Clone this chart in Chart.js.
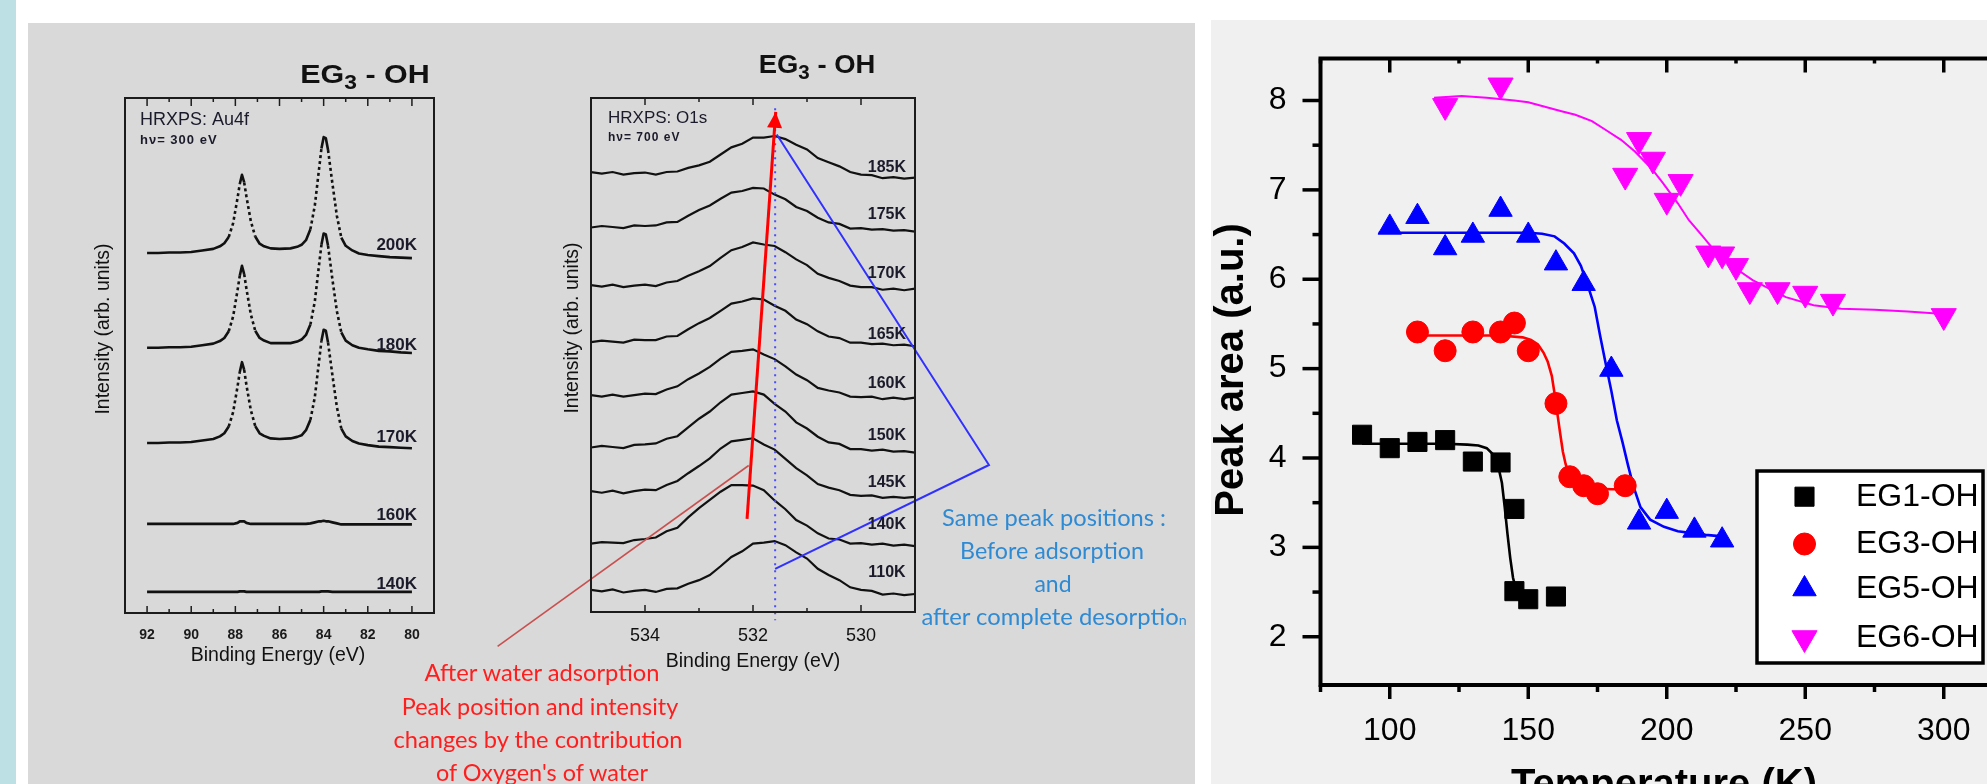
<!DOCTYPE html>
<html>
<head>
<meta charset="utf-8">
<script src="https://cdn.jsdelivr.net/npm/chart.js"></script>
<style>
html, body { margin: 0; padding: 0; }
body { width: 1987px; height: 784px; overflow: hidden; position: relative; background: #fff; }
.blk { position: absolute; }
#strip { left: 0; top: 0; width: 16px; height: 784px; background: #bde0e4; }
#panelL { left: 28px; top: 23px; width: 1167px; height: 761px; background: #d9d9d9; }
#panelR { left: 1211px; top: 20px; width: 776px; height: 764px; background: #f0f0f0; }
canvas { position: absolute; left: 0; top: 0; }
.fit { position: absolute; white-space: nowrap; line-height: 1; transform: translate(-50%, -50%); transform-origin: 50% 50%; }
.note { font-family: Lato, "Open Sans", sans-serif; font-size: 23px; }
.red { color: #ff1e1e; }
.blue { color: #2f8ad4; }
.ttl { font: bold 26px "Liberation Sans", Arial, sans-serif; line-height: 1; color: #111; }
.ttl sub { font-size: 0.75em; vertical-align: -0.3em; line-height: 0; }
.small { font-size: 60%; }
</style>
</head>
<body>
<div class="blk" id="strip"></div>
<div class="blk" id="panelL"></div>
<div class="blk" id="panelR"></div>
<canvas id="au4f" width="1987" height="784"></canvas>
<canvas id="o1s" width="1987" height="784"></canvas>
<canvas id="area" width="2040" height="784"></canvas>

<div class="fit ttl" data-w="130" style="left:365px; top:74px">EG<sub>3</sub> - OH</div>
<div class="fit ttl" data-w="117" style="left:817px; top:64px">EG<sub>3</sub> - OH</div>

<div class="fit note red" data-w="235" style="left:542px; top:672px">After water adsorption</div>
<div class="fit note red" data-w="277" style="left:540px; top:706px">Peak position and intensity</div>
<div class="fit note red" data-w="289" style="left:538px; top:739px">changes by the contribution</div>
<div class="fit note red" data-w="212" style="left:542px; top:772px">of Oxygen's of water</div>

<div class="fit note blue" data-w="224" style="left:1054px; top:517px">Same peak positions :</div>
<div class="fit note blue" data-w="184" style="left:1052px; top:550px">Before adsorption</div>
<div class="fit note blue" data-w="37" style="left:1053px; top:583px">and</div>
<div class="fit note blue" data-w="265" style="left:1054px; top:616px">after complete desorptio<span class="small">n</span></div>

<script>
// ---------- Au 4f spectra (binding energy in eV, intensity in arb. units) ----------
const au4fEnergy = [92, 91.5, 91, 90.5, 90, 89.5, 89, 88.7, 88.5, 88.3, 88.1, 87.9, 87.8, 87.7, 87.6,
  87.5, 87.3, 87.1, 86.9, 86.7, 86.4, 86, 85.5, 85.2, 85, 84.8, 84.6, 84.4, 84.2, 84.1, 84.0, 83.9,
  83.8, 83.6, 83.4, 83.2, 83.0, 82.7, 82.4, 82, 81.5, 81, 80.5, 80];
const au4fTemps = ['200K', '180K', '170K', '160K', '140K'];
const au4f200K = [69.9, 69.9, 70.0, 70.0, 70.1, 70.4, 70.7, 71.2, 71.8, 73.0, 75.7, 80.6, 83.3, 85.1, 83.6,
  80.9, 76.1, 73.1, 71.7, 71.2, 70.8, 70.7, 70.8, 71.1, 71.5, 72.4, 74.5, 79.1, 86.5, 90.2, 92.4, 92.2,
  89.9, 83.3, 77.1, 72.9, 71.3, 70.4, 69.8, 69.5, 69.3, 69.1, 69.0, 68.9];
const au4f180K = [51.5, 51.5, 51.6, 51.6, 51.7, 52.0, 52.3, 52.8, 53.4, 54.7, 57.6, 62.7, 65.5, 67.4, 65.8,
  63.0, 58.0, 54.8, 53.4, 52.9, 52.4, 52.4, 52.4, 52.7, 53.1, 54.0, 56.0, 60.5, 67.9, 71.5, 73.7, 73.5,
  71.3, 64.7, 58.6, 54.5, 52.9, 52.0, 51.5, 51.2, 50.9, 50.8, 50.6, 50.5];
const au4f170K = [33.0, 33.0, 33.1, 33.1, 33.2, 33.5, 33.8, 34.3, 34.9, 36.2, 39.0, 44.0, 46.8, 48.7, 47.2,
  44.3, 39.4, 36.3, 34.9, 34.4, 33.9, 33.8, 33.9, 34.2, 34.5, 35.5, 37.5, 41.9, 49.2, 52.8, 55.0, 54.8,
  52.5, 46.1, 40.0, 35.8, 34.3, 33.4, 32.9, 32.6, 32.3, 32.2, 32.1, 32.0];
const au4f160K = [17.3, 17.3, 17.3, 17.3, 17.3, 17.3, 17.3, 17.3, 17.3, 17.3, 17.3, 17.5, 17.8, 17.8, 17.8,
  17.5, 17.3, 17.3, 17.3, 17.3, 17.3, 17.3, 17.3, 17.3, 17.3, 17.3, 17.4, 17.6, 17.8, 17.8, 17.9, 17.8,
  17.8, 17.6, 17.4, 17.2, 17.2, 17.2, 17.2, 17.2, 17.2, 17.2, 17.2, 17.2];
const au4f140K = [4.1, 4.1, 4.1, 4.1, 4.1, 4.1, 4.1, 4.1, 4.1, 4.1, 4.1, 4.1, 4.2, 4.2, 4.2,
  4.1, 4.1, 4.1, 4.1, 4.1, 4.1, 4.1, 4.1, 4.1, 4.1, 4.1, 4.1, 4.1, 4.1, 4.2, 4.2, 4.2,
  4.2, 4.1, 4.1, 4.1, 4.1, 4.1, 4.1, 4.1, 4.1, 4.1, 4.1, 4.1];
const au4fMajorTicks = [92, 90, 88, 86, 84, 82, 80];
const au4fMinorTicks = [91, 89, 87, 85, 83, 81];

// ---------- O 1s spectra ----------
const o1sEnergy = [535.0, 534.8, 534.6, 534.4, 534.2, 534.0, 533.8, 533.6, 533.4, 533.2, 533.0, 532.8,
  532.6, 532.4, 532.2, 532.0, 531.8, 531.6, 531.4, 531.2, 531.0, 530.8, 530.6, 530.4, 530.2, 530.0,
  529.8, 529.6, 529.4, 529.2, 529.0];
const o1sTemps = ['185K', '175K', '170K', '165K', '160K', '150K', '145K', '140K', '110K'];
const o1s185K = [85.6, 85.3, 85.6, 85.1, 85.4, 85.5, 85.1, 85.6, 85.7, 86.4, 86.9, 87.6, 89.0, 90.4, 91.1,
  92.3, 92.3, 92.6, 92.0, 90.9, 90.0, 88.3, 87.5, 86.7, 85.6, 85.1, 85.0, 84.4, 84.6, 84.3, 84.5];
const o1s175K = [74.8, 75.1, 74.9, 74.7, 75.2, 75.1, 75.2, 75.8, 75.9, 77.1, 78.2, 79.1, 80.4, 81.6, 81.9,
  82.5, 82.4, 81.2, 80.3, 78.8, 78.0, 76.7, 75.8, 75.5, 74.6, 74.7, 74.4, 74.5, 74.2, 74.3, 74.0];
const o1s170K = [63.6, 63.3, 63.7, 63.2, 63.5, 63.7, 63.4, 64.1, 64.4, 65.4, 66.3, 67.3, 68.9, 70.4, 71.0,
  71.9, 71.5, 71.2, 70.0, 68.6, 67.5, 65.8, 65.0, 64.4, 63.5, 63.2, 63.2, 62.7, 62.9, 62.6, 62.9];
const o1s165K = [52.5, 52.8, 52.6, 52.4, 53.0, 52.9, 52.9, 53.6, 53.7, 55.0, 56.2, 57.2, 58.6, 60.0, 60.4,
  61.0, 60.8, 59.6, 58.6, 56.9, 56.0, 54.6, 53.6, 53.3, 52.4, 52.4, 52.1, 52.2, 51.9, 52.0, 51.7];
const o1s160K = [42.2, 41.9, 42.3, 41.9, 42.2, 42.5, 42.4, 43.3, 43.9, 45.3, 46.4, 47.7, 49.3, 50.6, 50.8,
  51.1, 50.1, 49.2, 47.8, 46.2, 45.1, 43.6, 43.1, 42.7, 41.9, 41.8, 41.9, 41.4, 41.7, 41.4, 41.7];
const o1s150K = [32.0, 32.3, 32.1, 31.9, 32.5, 32.6, 32.8, 33.7, 34.2, 35.9, 37.6, 39.0, 40.8, 42.3, 42.6,
  42.9, 42.3, 40.5, 39.0, 36.9, 35.7, 34.1, 33.0, 32.7, 31.7, 31.7, 31.4, 31.6, 31.2, 31.3, 31.0];
const o1s145K = [23.5, 23.2, 23.6, 23.1, 23.5, 23.8, 23.7, 24.7, 25.5, 27.0, 28.4, 29.9, 31.8, 33.2, 33.5,
  33.8, 32.6, 31.6, 29.8, 28.0, 26.6, 24.9, 24.2, 23.7, 22.8, 22.6, 22.7, 22.2, 22.4, 22.2, 22.4];
const o1s140K = [13.3, 13.6, 13.5, 13.4, 14.0, 14.2, 14.5, 15.7, 16.4, 18.4, 20.2, 21.8, 23.4, 24.7, 24.7,
  24.6, 23.7, 21.7, 20.0, 17.9, 16.8, 15.3, 14.3, 14.1, 13.3, 13.4, 13.1, 13.3, 12.9, 13.1, 12.8];
const o1s110K = [4.3, 4.0, 4.4, 3.8, 4.1, 4.3, 3.9, 4.5, 4.6, 5.5, 6.2, 7.2, 8.9, 10.7, 11.8,
  13.3, 13.5, 13.8, 13.0, 11.6, 10.4, 8.4, 7.2, 6.2, 4.8, 4.3, 4.1, 3.4, 3.6, 3.3, 3.5];
const o1sMajorTicks = [534, 532, 530];
const o1sMinorTicks = [533, 531];
// guide lines drawn over the O 1s panel (energy, intensity)
const shiftArrowE = [532.11, 531.58];
const shiftArrowI = [18.1, 97.3];
const shiftPointerE = [536.73, 532.08];
const shiftPointerI = [-6.7, 28.5];
const refLineE = [531.59, 531.59];
const refLineI = [98.0, -1.6];
const samePeakE = [531.56, 527.63, 531.59];
const samePeakI = [92.9, 28.6, 8.4];

// ---------- Peak area vs temperature ----------
const eg1Temp = [90, 100, 110, 120, 130, 140, 145, 145, 150, 160];
const eg1Area = [4.26, 4.11, 4.18, 4.20, 3.96, 3.95, 3.43, 2.51, 2.42, 2.45];
const eg3Temp = [110, 120, 130, 140, 145, 150, 160, 165, 170, 175, 185];
const eg3Area = [5.41, 5.20, 5.41, 5.41, 5.51, 5.20, 4.61, 3.79, 3.69, 3.60, 3.69];
const eg5Temp = [100, 110, 120, 130, 140, 150, 160, 170, 180, 190, 200, 210, 220];
const eg5Area = [6.58, 6.70, 6.35, 6.49, 6.78, 6.49, 6.18, 5.95, 4.99, 3.28, 3.40, 3.19, 3.08];
const eg6Temp = [120, 140, 185, 190, 195, 200, 205, 215, 220, 225, 230, 240, 250, 260, 300];
const eg6Area = [7.94, 8.17, 7.16, 7.56, 7.34, 6.88, 7.09, 6.29, 6.28, 6.15, 5.88, 5.88, 5.84, 5.75, 5.59];

const eg1FitTemp = [90, 100, 110, 120, 128, 132, 135, 137, 139, 140.5, 141.5, 142.5, 143.5, 144.5, 145.5, 146.5, 148, 151];
const eg1FitArea = [4.16, 4.16, 4.16, 4.16, 4.15, 4.14, 4.11, 4.05, 3.93, 3.72, 3.45, 3.15, 2.88, 2.66, 2.54, 2.48, 2.46, 2.45];
const eg3FitTemp = [110, 120, 130, 140, 148, 151, 153.5, 155.5, 157, 158.5, 159.5, 160.5, 161.5, 162.5, 163.5, 165, 168, 173, 180, 185];
const eg3FitArea = [5.37, 5.37, 5.37, 5.37, 5.35, 5.32, 5.27, 5.18, 5.08, 4.92, 4.72, 4.50, 4.28, 4.07, 3.93, 3.80, 3.72, 3.66, 3.65, 3.65];
const eg5FitTemp = [96, 110, 120, 130, 140, 150, 155, 159.5, 163, 166.5, 169, 171.5, 174, 176, 178, 180, 182, 184, 186, 188, 190.5, 194, 199, 204, 214, 221];
const eg5FitArea = [6.52, 6.52, 6.52, 6.52, 6.52, 6.52, 6.51, 6.48, 6.40, 6.29, 6.15, 5.93, 5.69, 5.36, 5.05, 4.75, 4.42, 4.18, 3.92, 3.68, 3.45, 3.31, 3.23, 3.18, 3.14, 3.12];
const eg6FitTemp = [116, 126, 135, 145, 150, 156, 162, 167, 173, 178, 183.5, 188.5, 194.5, 198.5, 204, 208, 213, 217.5, 224, 231, 243, 253, 263, 275, 287, 300];
const eg6FitArea = [8.03, 8.05, 8.03, 8.00, 7.98, 7.93, 7.88, 7.84, 7.77, 7.67, 7.56, 7.43, 7.24, 7.08, 6.85, 6.66, 6.48, 6.31, 6.14, 5.99, 5.80, 5.71, 5.67, 5.66, 5.64, 5.61];

const tempMajorTicks = [100, 150, 200, 250, 300];
const tempMinorTicks = [75, 125, 175, 225, 275, 325];
const areaMajorTicks = [2, 3, 4, 5, 6, 7, 8];
const areaMinorTicks = [2.5, 3.5, 4.5, 5.5, 6.5, 7.5];

// ---------- helpers ----------
const FONT = '"Liberation Sans", Arial, sans-serif';
Chart.defaults.font.family = FONT;
Chart.defaults.color = '#111';

function xy(xs, ys) {
  return xs.map((x, i) => ({ x: x, y: ys[i] }));
}
function useTicks(values) {
  return function (scale) { scale.ticks = values.map(v => ({ value: v })); };
}
// fixed axis box size so the plot area lands where the figure has it
function boxSize(n) {
  return function (scale) {
    if (scale.isHorizontal()) scale.height = n; else scale.width = n;
  };
}
function steepDash(ctx) {
  return Math.abs(ctx.p1.y - ctx.p0.y) > 12 ? [3, 3] : undefined;
}

function drawText(ctx, t, x, y) {
  ctx.save();
  ctx.font = t.font;
  ctx.fillStyle = t.color || '#111';
  ctx.textAlign = t.align || 'left';
  ctx.textBaseline = t.baseline || 'middle';
  if ('letterSpacing' in ctx) ctx.letterSpacing = t.spacing || '0px';
  ctx.translate(x, y);
  if (t.rotate) ctx.rotate(t.rotate);
  ctx.fillText(t.text, 0, 0);
  ctx.restore();
}

// frame, tick marks, labels, arrow head and legend
function deco(cfg) {
  return {
    id: 'deco',
    afterDatasetsDraw(chart) {
      const ctx = chart.ctx;
      const a = chart.chartArea;
      ctx.save();
      ctx.strokeStyle = cfg.frameColor;
      ctx.lineWidth = cfg.frameWidth;
      ctx.strokeRect(a.left, a.top, a.right - a.left, a.bottom - a.top);
      cfg.ticks.forEach(t => {
        const s = chart.scales[t.axis];
        ctx.lineWidth = t.width;
        t.values.forEach(v => {
          const p = s.getPixelForValue(v);
          ctx.beginPath();
          if (t.edge === 'bottom') { ctx.moveTo(p, a.bottom); ctx.lineTo(p, a.bottom - t.len); }
          else if (t.edge === 'top') { ctx.moveTo(p, a.top); ctx.lineTo(p, a.top + t.len); }
          else { ctx.moveTo(a.left, p); ctx.lineTo(a.left + t.len, p); }
          ctx.stroke();
        });
      });
      ctx.restore();

      cfg.texts.forEach(t => {
        const x = t.xv !== undefined ? chart.scales.x.getPixelForValue(t.xv) : t.x;
        const y = t.yv !== undefined ? chart.scales.y.getPixelForValue(t.yv) : t.y;
        drawText(ctx, t, x, y);
      });

      if (cfg.arrow) {
        const pts = chart.getDatasetMeta(cfg.arrow.dataset).data;
        const p1 = pts[pts.length - 1], p0 = pts[pts.length - 2];
        const ang = Math.atan2(p1.y - p0.y, p1.x - p0.x);
        const L = cfg.arrow.len, H = cfg.arrow.half;
        const bx = p1.x - Math.cos(ang) * L, by = p1.y - Math.sin(ang) * L;
        ctx.save();
        ctx.fillStyle = cfg.arrow.color;
        ctx.beginPath();
        ctx.moveTo(p1.x, p1.y);
        ctx.lineTo(bx + Math.sin(ang) * H, by - Math.cos(ang) * H);
        ctx.lineTo(bx - Math.sin(ang) * H, by + Math.cos(ang) * H);
        ctx.closePath();
        ctx.fill();
        ctx.restore();
      }

      if (cfg.legend) {
        const g = cfg.legend;
        ctx.save();
        ctx.fillStyle = '#fff';
        ctx.fillRect(g.left, g.top, g.right - g.left, g.bottom - g.top);
        ctx.strokeStyle = '#000';
        ctx.lineWidth = g.border;
        ctx.strokeRect(g.left, g.top, g.right - g.left, g.bottom - g.top);
        g.rows.forEach((ry, i) => {
          const ds = chart.data.datasets[i];
          ctx.fillStyle = ds.backgroundColor;
          ctx.strokeStyle = ds.borderColor;
          ctx.lineWidth = 1;
          Chart.helpers.drawPoint(ctx, {
            pointStyle: ds.pointStyle, rotation: ds.pointRotation || 0,
            radius: ds.pointRadius, borderWidth: 1
          }, g.markerX, ry);
          drawText(ctx, { text: ds.label, font: g.font, color: '#000' }, g.textX, ry);
        });
        ctx.restore();
      }
    }
  };
}

// ---------- chart 1 : Au 4f ----------
const au4fSeries = [au4f200K, au4f180K, au4f170K, au4f160K, au4f140K];
new Chart(document.getElementById('au4f'), {
  type: 'scatter',
  data: {
    datasets: au4fSeries.map((ys, i) => ({
      label: au4fTemps[i],
      data: xy(au4fEnergy, ys),
      showLine: true,
      pointRadius: 0,
      borderColor: '#111',
      borderWidth: 2.6,
      borderJoinStyle: 'round',
      segment: { borderDash: steepDash }
    }))
  },
  options: {
    responsive: false,
    animation: false,
    events: [],
    layout: { padding: { left: 125, top: 98, right: 1987 - 434, bottom: 784 - 613 - 50 } },
    plugins: { legend: { display: false }, tooltip: { enabled: false } },
    scales: {
      x: {
        type: 'linear', min: 79, max: 93, reverse: true,
        afterFit: boxSize(50), afterBuildTicks: useTicks(au4fMajorTicks),
        grid: { display: false }, border: { display: false },
        ticks: { font: { size: 14, weight: 'bold' }, color: '#1a1a1a', padding: 6, autoSkip: false, maxRotation: 0 }
      },
      y: { type: 'linear', min: 0, max: 100, display: false }
    }
  },
  plugins: [deco({
    frameWidth: 2, frameColor: '#1c1c1c',
    ticks: [
      { axis: 'x', edge: 'top', values: au4fMajorTicks, len: 8, width: 1.5 },
      { axis: 'x', edge: 'top', values: au4fMinorTicks, len: 4, width: 1.5 },
      { axis: 'x', edge: 'bottom', values: au4fMajorTicks, len: 7, width: 1.5 },
      { axis: 'x', edge: 'bottom', values: au4fMinorTicks, len: 4, width: 1.5 }
    ],
    texts: [
      { text: 'HRXPS: Au4f', x: 140, y: 120, font: '18px ' + FONT, color: '#1a1a2a' },
      { text: 'h\u03bd= 300 eV', x: 140, y: 140, font: 'bold 13px ' + FONT, spacing: '1px', color: '#1a1a2a' },
      { text: 'Binding Energy (eV)', x: 278, y: 656, font: '19.5px ' + FONT, align: 'center' },
      { text: 'Intensity (arb. units)', x: 104, y: 329, font: '19.5px ' + FONT, align: 'center', rotate: -Math.PI / 2 }
    ].concat(au4fTemps.map((t, i) => ({
      text: t, xv: 80.69, yv: [71.3, 52.0, 34.2, 19.0, 5.6][i],
      font: 'bold 17px ' + FONT, align: 'center', color: '#1a1a2a'
    })))
  })]
});

// ---------- chart 2 : O 1s ----------
const o1sSeries = [o1s185K, o1s175K, o1s170K, o1s165K, o1s160K, o1s150K, o1s145K, o1s140K, o1s110K];
const o1sGuides = [
  { data: xy(shiftPointerE, shiftPointerI), borderColor: '#c8504f', borderWidth: 1.6 },
  { data: xy(shiftArrowE, shiftArrowI), borderColor: '#ff0000', borderWidth: 3 },
  { data: xy(refLineE, refLineI), borderColor: '#4b4bff', borderWidth: 2, borderDash: [2, 5] },
  { data: xy(samePeakE, samePeakI), borderColor: '#3030ff', borderWidth: 2 }
].map(d => Object.assign({ showLine: true, pointRadius: 0, clip: false }, d));

new Chart(document.getElementById('o1s'), {
  type: 'scatter',
  data: {
    datasets: o1sGuides.concat(o1sSeries.map((ys, i) => ({
      label: o1sTemps[i],
      data: xy(o1sEnergy, ys),
      showLine: true,
      pointRadius: 0,
      borderColor: '#111',
      borderWidth: 2.2
    })))
  },
  options: {
    responsive: false,
    animation: false,
    events: [],
    layout: { padding: { left: 591, top: 98, right: 1987 - 915, bottom: 784 - 612 - 50 } },
    plugins: { legend: { display: false }, tooltip: { enabled: false } },
    scales: {
      x: {
        type: 'linear', min: 529, max: 535, reverse: true,
        afterFit: boxSize(50), afterBuildTicks: useTicks(o1sMajorTicks),
        grid: { display: false }, border: { display: false },
        ticks: { font: { size: 18 }, color: '#111', padding: 5, autoSkip: false, maxRotation: 0 }
      },
      y: { type: 'linear', min: 0, max: 100, display: false }
    }
  },
  plugins: [deco({
    frameWidth: 2, frameColor: '#1c1c1c',
    ticks: [
      { axis: 'x', edge: 'top', values: o1sMajorTicks, len: 7, width: 1.5 },
      { axis: 'x', edge: 'top', values: o1sMinorTicks, len: 4, width: 1.5 },
      { axis: 'x', edge: 'bottom', values: o1sMajorTicks, len: 7, width: 1.5 },
      { axis: 'x', edge: 'bottom', values: o1sMinorTicks, len: 4, width: 1.5 }
    ],
    texts: [
      { text: 'HRXPS: O1s', x: 608, y: 118.5, font: '17px ' + FONT, color: '#1a1a2a' },
      { text: 'h\u03bd= 700 eV', x: 608, y: 138, font: 'bold 12px ' + FONT, spacing: '1px', color: '#1a1a2a' },
      { text: 'Binding Energy (eV)', x: 753, y: 662, font: '19.5px ' + FONT, align: 'center' },
      { text: 'Intensity (arb. units)', x: 573, y: 328, font: '19.5px ' + FONT, align: 'center', rotate: -Math.PI / 2 }
    ].concat(o1sTemps.map((t, i) => ({
      text: t, xv: 529.52, yv: [86.5, 77.4, 65.9, 53.9, 44.4, 34.4, 25.1, 17.0, 7.6][i],
      font: 'bold 16px ' + FONT, align: 'center', color: '#1a1a2a'
    }))),
    arrow: { dataset: 1, color: '#ff0000', len: 16, half: 7.5 }
  })]
});

// ---------- chart 3 : peak area vs temperature ----------
const markerSets = [
  { label: 'EG1-OH', data: xy(eg1Temp, eg1Area), pointStyle: 'rect', pointRadius: 13.5, color: '#000000' },
  { label: 'EG3-OH', data: xy(eg3Temp, eg3Area), pointStyle: 'circle', pointRadius: 11, color: '#ff0000' },
  { label: 'EG5-OH', data: xy(eg5Temp, eg5Area), pointStyle: 'triangle', pointRadius: 13.5, color: '#0000ff' },
  { label: 'EG6-OH', data: xy(eg6Temp, eg6Area), pointStyle: 'triangle', pointRadius: 14.5, pointRotation: 180, color: '#ff00ff' }
].map(d => Object.assign({ backgroundColor: d.color, borderColor: d.color, borderWidth: 1, pointHoverRadius: d.pointRadius }, d));

const fitSets = [
  { data: xy(eg1FitTemp, eg1FitArea), borderColor: '#000000', borderWidth: 2.6 },
  { data: xy(eg3FitTemp, eg3FitArea), borderColor: '#ff0000', borderWidth: 2.6 },
  { data: xy(eg5FitTemp, eg5FitArea), borderColor: '#0000ff', borderWidth: 2.6 },
  { data: xy(eg6FitTemp, eg6FitArea), borderColor: '#ff00ff', borderWidth: 2 }
].map(d => Object.assign({ showLine: true, pointRadius: 0 }, d));

new Chart(document.getElementById('area'), {
  type: 'scatter',
  data: { datasets: markerSets.concat(fitSets) },
  options: {
    responsive: false,
    animation: false,
    events: [],
    layout: { padding: { left: 1320.5 - 100, top: 58.5, right: 2040 - 2013, bottom: 784 - 685 - 70 } },
    plugins: { legend: { display: false }, tooltip: { enabled: false } },
    scales: {
      x: {
        type: 'linear', min: 75, max: 325,
        afterFit: boxSize(70), afterBuildTicks: useTicks(tempMajorTicks),
        grid: { display: false }, border: { display: false },
        ticks: { font: { size: 32 }, color: '#000', padding: 19, autoSkip: false, maxRotation: 0 }
      },
      y: {
        type: 'linear', min: 1.46, max: 8.47,
        afterFit: boxSize(100), afterBuildTicks: useTicks(areaMajorTicks),
        grid: { display: false }, border: { display: false },
        ticks: { font: { size: 32 }, color: '#000', padding: 26, autoSkip: false }
      }
    }
  },
  plugins: [deco({
    frameWidth: 4, frameColor: '#000',
    ticks: [
      { axis: 'y', edge: 'left', values: areaMajorTicks, len: -18, width: 3.5 },
      { axis: 'y', edge: 'left', values: areaMinorTicks, len: -8, width: 3.5 },
      { axis: 'x', edge: 'bottom', values: tempMajorTicks, len: -14, width: 3.5 },
      { axis: 'x', edge: 'bottom', values: tempMinorTicks, len: -7, width: 3.5 },
      { axis: 'x', edge: 'top', values: tempMajorTicks, len: 14, width: 3.5 },
      { axis: 'x', edge: 'top', values: tempMinorTicks, len: 5, width: 3.5 }
    ],
    texts: [
      { text: 'Peak area (a.u.)', x: 1232, y: 370, font: 'bold 40px ' + FONT, align: 'center', rotate: -Math.PI / 2, color: '#000' },
      { text: 'Temperature (K)', x: 1664, y: 797, font: 'bold 40px ' + FONT, align: 'center', baseline: 'alphabetic', color: '#000' }
    ],
    legend: {
      left: 1757, top: 471, right: 1983, bottom: 663, border: 3.5,
      rows: [496.7, 544, 589, 638], markerX: 1804.5, textX: 1856,
      font: '32px ' + FONT
    }
  })]
});

// squeeze or stretch the free text to the widths seen in the figure
function fitNotes() {
  document.querySelectorAll('.fit').forEach(el => {
    const w = parseFloat(el.dataset.w);
    const s = w / el.offsetWidth;
    el.style.transform = 'translate(-50%, -50%) scaleX(' + s.toFixed(3) + ')';
  });
}
fitNotes();
if (document.fonts && document.fonts.ready) document.fonts.ready.then(fitNotes);
</script>
</body>
</html>
